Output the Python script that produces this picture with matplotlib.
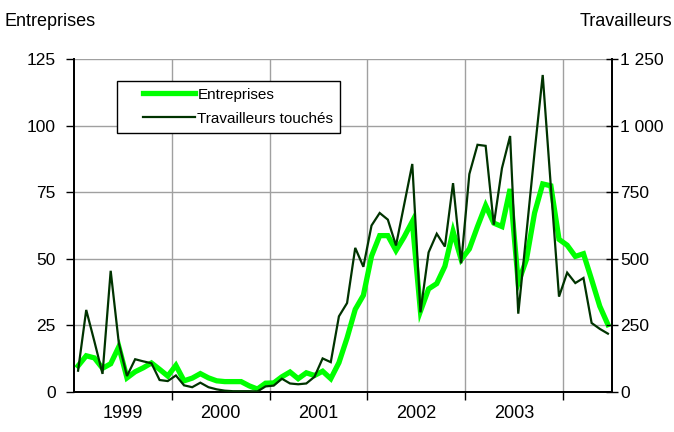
import numpy as np
import matplotlib
matplotlib.use('Agg')
import matplotlib.pyplot as plt
from matplotlib.legend_handler import HandlerLine2D
from matplotlib.ticker import FuncFormatter

plt.rcParams['font.family'] = ['Liberation Sans', 'DejaVu Sans']

# données mensuelles, janvier 1999 - juin 2004
entreprises = [9.8, 13.6, 12.8, 8.9, 10.6, 17.0, 5.3, 7.6, 9.1, 10.9, 8.5, 6.0,
               10.0, 4.2, 5.2, 6.9, 5.3, 4.2, 3.9, 3.9, 3.9, 2.3, 1.1, 3.3,
               3.4, 5.7, 7.5, 5.0, 7.2, 6.2, 7.8, 5.0, 11.0, 20.3, 31.0, 36.3,
               51.0, 58.7, 58.7, 53.1, 58.2, 64.0, 30.3, 38.7, 40.7, 47.2, 60.3, 49.7,
               53.7, 62.1, 70.0, 63.4, 62.1, 76.2, 41.0, 49.7, 67.2, 78.1, 77.4, 57.3,
               55.1, 50.9, 51.9, 42.2, 32.2, 25.3]
travailleurs = [80, 308, 190, 68, 455, 183, 60, 123, 115, 108, 45, 41,
                62, 25, 18, 35, 18, 10, 5, 3, 3, 3, 2, 21,
                24, 50, 32, 29, 32, 57, 126, 112, 284, 334, 541, 470,
                625, 672, 647, 550, 703, 856, 299, 524, 594, 546, 784, 483,
                818, 928, 924, 628, 840, 961, 294, 595, 900, 1190, 770, 358,
                448, 409, 428, 259, 237, 219]
annees = ['1999', '2000', '2001', '2002', '2003']

x = np.arange(len(entreprises))

fig = plt.figure(figsize=(6.74, 4.32), dpi=100)
ax = fig.add_axes([74/674, 1 - 392/432, 538/674, 333/432])
ax2 = ax.twinx()

l1, = ax.plot(x, entreprises, color='#00ff00', lw=3.8, solid_joinstyle='miter', zorder=3)
l2, = ax2.plot(x, travailleurs, color='#003300', lw=1.6, solid_joinstyle='miter', zorder=3)

ax.set_xlim(-0.5, len(x) - 0.5)
ax.set_ylim(0, 125)
ax2.set_ylim(0, 1250)
ax.set_yticks(np.arange(0, 126, 25))
ax2.set_yticks(np.arange(0, 1251, 250))
ax2.yaxis.set_major_formatter(FuncFormatter(lambda v, p: '{:,.0f}'.format(v).replace(',', ' ')))

# limites d'années (grille) et étiquettes centrées
ax.set_xticks([12 * k - 0.5 for k in range(1, 6)])
ax.set_xticklabels([])
ax.set_xticks([12 * k + 5.5 for k in range(len(annees))], minor=True)
ax.set_xticklabels(annees, minor=True)
ax.tick_params(axis='x', which='minor', length=0, pad=9, labelsize=13)
ax.tick_params(axis='x', which='major', length=6, width=1, direction='out')
ax.tick_params(axis='y', length=6, width=1, direction='out', pad=7, labelsize=12.5)
ax2.tick_params(axis='y', length=8, width=1, direction='inout', pad=2, labelsize=12.5)

ax.grid(True, which='major', color='#a0a0a0', lw=1)
ax.set_axisbelow(True)
for a in (ax, ax2):
    for s in a.spines.values():
        s.set_linewidth(1.3)
ax2.spines['top'].set_visible(False)
ax.spines['top'].set_visible(False)

fig.text(5/674, 1 - 22/432, 'Entreprises', fontsize=13, ha='left', va='center')
fig.text(672/674, 1 - 22/432, 'Travailleurs', fontsize=13, ha='right', va='center')

leg = ax2.legend([l1, l2], ['Entreprises', 'Travailleurs touchés'],
                 loc='upper left', bbox_to_anchor=(0.0805, 0.935), borderaxespad=0,
                 fontsize=11,
                 handler_map={l1: HandlerLine2D(xpad=1.23), l2: HandlerLine2D(xpad=1.23)},
                 handlelength=4.63, handletextpad=0.15, borderpad=0.46,
                 labelspacing=0.65, fancybox=False, framealpha=1, edgecolor='black')
leg.get_frame().set_linewidth(1)

fig.savefig('out.png', dpi=100)
